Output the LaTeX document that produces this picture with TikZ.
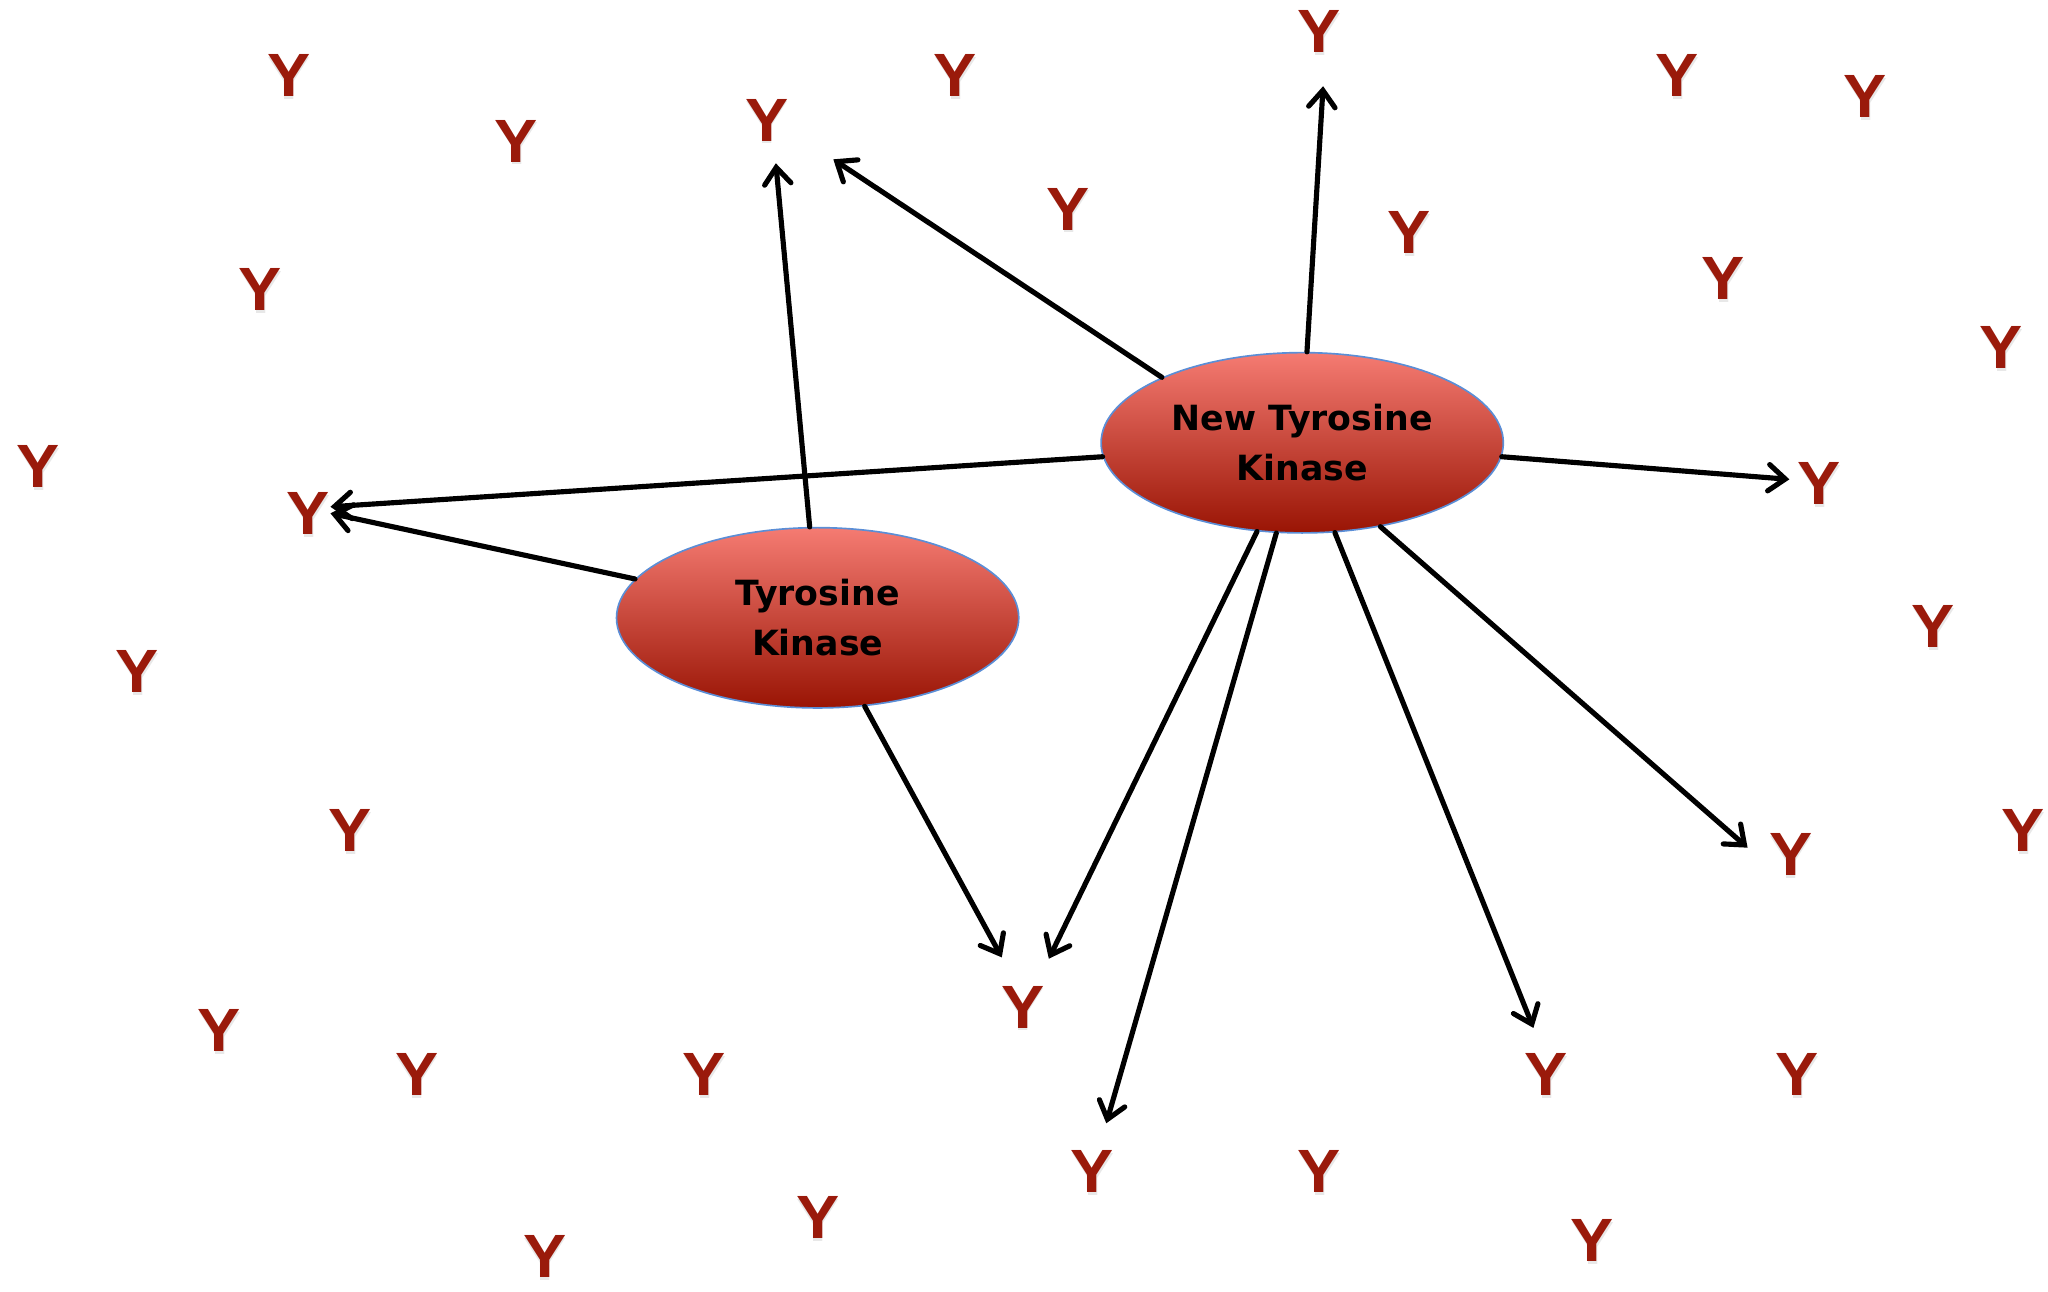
\documentclass[tikz,border=0pt]{standalone}
\usepackage{fontspec}
\setmainfont{Liberation Sans}
\newfontfamily\labelfont{DejaVu Sans}
\usetikzlibrary{arrows.meta,shapes.geometric}
\definecolor{ymark}{HTML}{9A1A0B}
\definecolor{kintop}{HTML}{F57B72}
\definecolor{kinbot}{HTML}{991404}
\definecolor{kinedge}{HTML}{5B8ED6}
\tikzset{
  yfont/.style={font=\fontsize{22}{22}\selectfont\bfseries, inner sep=0pt, xscale=1.06},
  ymk/.style={yfont, text=ymark},
  yshade/.style={yfont, text=black, text opacity=0.09},
  kinase/.style={ellipse, draw=kinedge, line width=0.6pt, top color=kintop, bottom color=kinbot,
    minimum width=144.8pt, minimum height=64.9pt, inner sep=0pt, align=center,
    font=\labelfont\fontsize{12.5}{17.9}\selectfont\bfseries},
  ray/.style={line width=1.85pt, line cap=round, line join=round,
    -{Straight Barb[length=6pt,width=9.5pt,line width=1.85pt,line cap=round]}},
}
\begin{document}
\begin{tikzpicture}[x=0.4702pt, y=-0.4702pt]
\useasboundingbox (0,0) rectangle (1568,989);
% tyrosine residues, each with a faint shadow
\foreach \n/\px/\py in {1/221/58, 2/395/108, 3/587/92, 4/731/58, 5/1010/24, 6/818/160,
  7/1079/178, 8/1284/58, 9/1428/74, 10/1319/213, 11/1532/266, 12/199/222, 13/29/357,
  14/236/393, 15/1393/370, 16/105/514, 17/1480/480, 18/268/636, 19/1371/654, 20/1549/636,
  21/783/771, 22/168/789, 23/319/823, 24/539/823, 25/1184/823, 26/1376/823, 27/836/897,
  28/1010/897, 29/626/932, 30/1219/950, 31/417/962}
{
  \node[yshade] at ([xshift=0.3pt,yshift=-1pt]\px,\py) {Y};
  \node[ymk] (y\n) at (\px,\py) {Y};
}
% kinases
\node[kinase] (ntk) at (997,339) {New Tyrosine\\Kinase};
\node[kinase] (tk) at (626,473) {Tyrosine\\Kinase};
% arrow targets
\coordinate (a1) at (638,122);
\coordinate (a2) at (1013,66);
\coordinate (a3) at (253,388);
\coordinate (a4) at (1370,367);
\coordinate (a5) at (803,734);
\coordinate (a6) at (847,860);
\coordinate (a7) at (1174,787);
\coordinate (a8) at (1338,649);
\coordinate (b1) at (594,125);
\coordinate (b2) at (253,393);
\coordinate (b3) at (767,733);
% phosphorylation arrows
\draw[ray] (ntk.155.8) -- (a1);
\draw[ray] (ntk.87.5) -- (a2);
\draw[ray] (ntk.184.1) -- (a3);
\draw[ray] (ntk.-4.5) -- (a4);
\draw[ray] (ntk.243.8) -- (a5);
\draw[ray] (ntk.254) -- (a6);
\draw[ray] (ntk.290.3) -- (a7);
\draw[ray] (ntk.313.6) -- (a8);
\draw[ray] (tk.95) -- (b1);
\draw[ray] (tk.168) -- (b2);
\draw[ray] (tk.298.2) -- (b3);
\end{tikzpicture}
\end{document}
